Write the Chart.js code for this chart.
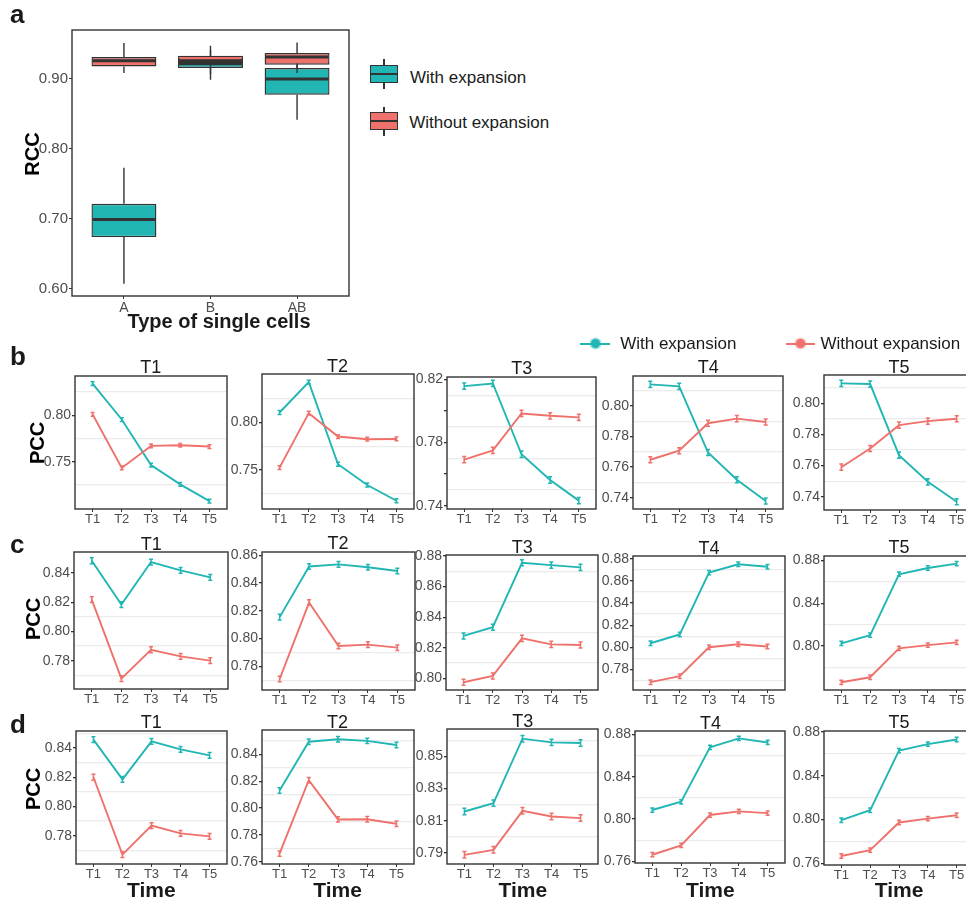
<!DOCTYPE html>
<html>
<head>
<meta charset="utf-8">
<script src="https://cdn.jsdelivr.net/npm/chart.js@4.4.0/dist/chart.umd.min.js"></script>
<style>
  body { margin: 0; background: #fff; }
  #fig { position: relative; width: 966px; height: 899px; overflow: hidden; background: #fff;
         font-family: "Liberation Sans", Arial, sans-serif; }
  #fig canvas, #fig .t, #fig .g { position: absolute; }
  #fig .t { white-space: nowrap; color: #1a1a1a; }
</style>
</head>
<body>
<div id="fig"></div>
<script>
// Panneau a : boîtes à moustaches
const cellTypes = ['A', 'B', 'AB'];
const rccTicks = [0.60, 0.70, 0.80, 0.90];
const withLow = [0.6071, 0.898, 0.841];
const withQ1 = [0.6735, 0.9148, 0.8768];
const withMed = [0.6987, 0.921, 0.899];
const withQ3 = [0.7211, 0.929, 0.9148];
const withHigh = [0.7724, 0.94, 0.93];
const withoutLow = [0.9077, 0.906, 0.9077];
const withoutQ1 = [0.9171, 0.9215, 0.9195];
const withoutMed = [0.925, 0.9252, 0.9305];
const withoutQ3 = [0.9305, 0.9323, 0.9362];
const withoutHigh = [0.9504, 0.9466, 0.9513];

// Panneaux b, c, d : PCC au cours du temps
const timeLabels = ['T1', 'T2', 'T3', 'T4', 'T5'];
const panelTitles = ['T1', 'T2', 'T3', 'T4', 'T5'];
const errHalf = 0.002; // demi-barre d'erreur estimée

const bWith = [
  [0.834, 0.7954, 0.7465, 0.7258, 0.7079],
  [0.8106, 0.8427, 0.756, 0.7341, 0.7175],
  [0.8158, 0.8175, 0.7726, 0.7563, 0.7432],
  [0.8141, 0.8128, 0.7696, 0.7517, 0.7378],
  [0.8128, 0.8124, 0.7667, 0.7496, 0.7368]
];
const bWithout = [
  [0.801, 0.7435, 0.7671, 0.7678, 0.7664],
  [0.7524, 0.8099, 0.7852, 0.7824, 0.7827],
  [0.7692, 0.7751, 0.7985, 0.797, 0.796],
  [0.7648, 0.7707, 0.7887, 0.7917, 0.7895],
  [0.759, 0.771, 0.786, 0.7886, 0.7901]
];
const bRange = [[0.6994, 0.8421], [0.7088, 0.8512], [0.7379, 0.8216], [0.7326, 0.8196], [0.7315, 0.8182]];
const bTicks = [[0.75, 0.80], [0.75, 0.80], [0.74, 0.76, 0.78, 0.80, 0.82], [0.74, 0.76, 0.78, 0.80], [0.74, 0.76, 0.78, 0.80]];
const bTickLabels = [['0.75', '0.80'], ['0.75', '0.80'], ['0.74', '', '0.78', '', '0.82'],
  ['0.74', '0.76', '0.78', '0.80'], ['0.74', '0.76', '0.78', '0.80']];
const bGrid = [[0.725, 0.775, 0.825], [0.725, 0.775, 0.825], [0.75, 0.77, 0.79, 0.81], [0.75, 0.77, 0.79, 0.81], [0.75, 0.77, 0.79, 0.81]];

const cWith = [
  [0.8484, 0.8184, 0.8475, 0.8418, 0.837],
  [0.8155, 0.852, 0.8535, 0.8514, 0.8487],
  [0.8277, 0.8334, 0.8756, 0.8741, 0.8726],
  [0.8036, 0.8115, 0.8676, 0.8752, 0.873],
  [0.8025, 0.8102, 0.867, 0.8728, 0.8769]
];
const cWithout = [
  [0.8218, 0.7677, 0.7875, 0.7829, 0.78],
  [0.7709, 0.826, 0.7947, 0.7957, 0.7935],
  [0.7974, 0.8015, 0.8261, 0.8222, 0.8218],
  [0.7683, 0.7737, 0.80, 0.8027, 0.8006],
  [0.7662, 0.7709, 0.7979, 0.8009, 0.8034]
];
const cRange = [[0.7606, 0.8544], [0.763, 0.8624], [0.7923, 0.8807], [0.7612, 0.8827], [0.759, 0.884]];
const cTicks = [[0.78, 0.80, 0.82, 0.84], [0.78, 0.80, 0.82, 0.84, 0.86], [0.80, 0.82, 0.84, 0.86, 0.88],
  [0.78, 0.80, 0.82, 0.84, 0.86, 0.88], [0.80, 0.84, 0.88]];
const cGrid = [[0.77, 0.79, 0.81], [0.77, 0.79], [0.81, 0.83, 0.85, 0.87], [0.77, 0.79, 0.81, 0.83, 0.85, 0.87], [0.78, 0.82, 0.86]];

const dWith = [
  [0.8458, 0.8186, 0.8446, 0.8391, 0.835],
  [0.8131, 0.8493, 0.8511, 0.8499, 0.8469],
  [0.8158, 0.821, 0.861, 0.8587, 0.8583],
  [0.8085, 0.8163, 0.8677, 0.8761, 0.8723],
  [0.7994, 0.8085, 0.863, 0.8689, 0.8731]
];
const dWithout = [
  [0.82, 0.767, 0.7869, 0.7816, 0.7795],
  [0.7662, 0.8207, 0.7916, 0.7917, 0.7884],
  [0.7889, 0.792, 0.8162, 0.8127, 0.8117],
  [0.7663, 0.7751, 0.8038, 0.8072, 0.8056],
  [0.7667, 0.7721, 0.7973, 0.8009, 0.8039]
];
const dRange = [[0.7606, 0.8517], [0.7585, 0.858], [0.7832, 0.867], [0.7585, 0.8831], [0.7585, 0.8809]];
const dTicks = [[0.78, 0.80, 0.82, 0.84], [0.76, 0.78, 0.80, 0.82, 0.84], [0.79, 0.81, 0.83, 0.85],
  [0.76, 0.80, 0.84, 0.88], [0.76, 0.80, 0.84, 0.88]];
const dGrid = [[0.77, 0.79, 0.81, 0.83, 0.85], [0.77, 0.79, 0.81, 0.83, 0.85], [0.80, 0.82, 0.84, 0.86], [0.78, 0.82, 0.86], [0.78, 0.82, 0.86]];

// Mise en page : cadres des panneaux [gauche, haut, droite, bas]
const bBoxes = [[75, 375.7, 226.7, 509], [261.7, 374.3, 413.3, 509], [447.2, 376.7, 596.5, 509], [633.4, 375.7, 783.2, 509], [824.1, 375, 974, 510]];
const cBoxes = [[74, 552.3, 228.3, 689.3], [261.7, 551.7, 414.3, 689.3], [446.1, 555, 598.3, 690], [633.1, 556, 784.9, 690], [824.1, 555.7, 974, 690]];
const dBoxes = [[76, 730.7, 226.7, 863.3], [261.7, 730, 413.3, 864.3], [447.2, 729.3, 598.3, 864.3], [635.2, 731, 785.6, 863.3], [824.1, 730.7, 974, 865]];

const TEAL = '#21B6B4';
const RED = '#EF716B';
const DARK = '#333333';
const TICK_GREY = '#4D4D4D';

Chart.defaults.font.family = '"Liberation Sans", Arial, sans-serif';
Chart.defaults.color = TICK_GREY;
Chart.defaults.animation = false;

const fig = document.getElementById('fig');

function addCanvas(left, top, w, h) {
    const c = document.createElement('canvas');
    c.width = w;
    c.height = h;
    c.style.left = left + 'px';
    c.style.top = top + 'px';
    c.style.width = w + 'px';
    c.style.height = h + 'px';
    fig.appendChild(c);
    return c;
}

// Texte HTML positionné par sa ligne de base
function addText(str, x, base, size, bold, align) {
    const d = document.createElement('div');
    d.className = 't';
    d.textContent = str;
    d.style.fontSize = size + 'px';
    d.style.lineHeight = size + 'px';
    d.style.fontWeight = bold ? 'bold' : 'normal';
    d.style.left = x + 'px';
    d.style.top = (base - 0.8465 * size) + 'px';
    if (align === 'center') d.style.transform = 'translateX(-50%)';
    fig.appendChild(d);
    return d;
}

function addVertical(str, cx, cy, size) {
    const d = document.createElement('div');
    d.className = 't';
    d.textContent = str;
    d.style.fontSize = size + 'px';
    d.style.lineHeight = size + 'px';
    d.style.fontWeight = 'bold';
    d.style.color = '#000';
    d.style.left = cx + 'px';
    d.style.top = cy + 'px';
    d.style.transform = 'translate(-50%, -50%) rotate(-90deg)';
    fig.appendChild(d);
}

function addShape(css) {
    const d = document.createElement('div');
    d.className = 'g';
    d.style.cssText += css;
    fig.appendChild(d);
    return d;
}

// Cadre sombre autour de la zone du graphique
const framePlugin = {
    id: 'frame',
    afterDraw(chart) {
        const a = chart.chartArea;
        const ctx = chart.ctx;
        ctx.save();
        ctx.strokeStyle = DARK;
        ctx.lineWidth = 1.4;
        ctx.strokeRect(a.left, a.top, a.right - a.left, a.bottom - a.top);
        ctx.restore();
    }
};

// Moustaches et médianes, dessinées juste après chaque jeu de boîtes
const boxParts = {
    id: 'boxParts',
    afterDatasetDraw(chart, args) {
        const ds = chart.data.datasets[args.index];
        const y = chart.scales.y;
        const ctx = chart.ctx;
        ctx.save();
        ctx.strokeStyle = DARK;
        args.meta.data.forEach((bar, i) => {
            const half = bar.width / 2;
            ctx.lineWidth = 1.4;
            ctx.beginPath();
            ctx.moveTo(bar.x, y.getPixelForValue(ds.q3[i]));
            ctx.lineTo(bar.x, y.getPixelForValue(ds.high[i]));
            ctx.moveTo(bar.x, y.getPixelForValue(ds.q1[i]));
            ctx.lineTo(bar.x, y.getPixelForValue(ds.low[i]));
            ctx.stroke();
            ctx.lineWidth = 3;
            ctx.beginPath();
            const ym = y.getPixelForValue(ds.med[i]);
            ctx.moveTo(bar.x - half + 1, ym);
            ctx.lineTo(bar.x + half - 1, ym);
            ctx.stroke();
        });
        ctx.restore();
    }
};

// Petites barres d'erreur verticales sur chaque point
const errorBars = {
    id: 'errorBars',
    afterDatasetDraw(chart, args) {
        const ds = chart.data.datasets[args.index];
        const y = chart.scales.y;
        const ctx = chart.ctx;
        ctx.save();
        ctx.strokeStyle = ds.borderColor;
        ctx.lineWidth = 1.5;
        args.meta.data.forEach((pt, i) => {
            const v = ds.data[i].y;
            const y1 = y.getPixelForValue(v + errHalf);
            const y2 = y.getPixelForValue(v - errHalf);
            ctx.beginPath();
            ctx.moveTo(pt.x, y1);
            ctx.lineTo(pt.x, y2);
            ctx.moveTo(pt.x - 2, y1);
            ctx.lineTo(pt.x + 2, y1);
            ctx.moveTo(pt.x - 2, y2);
            ctx.lineTo(pt.x + 2, y2);
            ctx.stroke();
        });
        ctx.restore();
    }
};

// ---------- Panneau a ----------
function drawBoxPanel() {
    const L = 72, T = 30, R = 349, B = 296;
    const YW = 50, PAD = 10, XH = 22;
    const canvas = addCanvas(L - YW, T - PAD, (R - L) + YW + PAD, (B - T) + PAD + XH);
    const boxData = (q1, q3) => cellTypes.map((c, i) => ({ x: i + 1, y: [q1[i], q3[i]] }));
    new Chart(canvas, {
        type: 'bar',
        data: {
            datasets: [{
                label: 'With expansion',
                data: boxData(withQ1, withQ3),
                q1: withQ1, q3: withQ3, med: withMed, low: withLow, high: withHigh,
                backgroundColor: TEAL,
                borderColor: DARK,
                borderWidth: 1.4,
                borderSkipped: false,
                grouped: false,
                categoryPercentage: 1,
                barPercentage: 0.75,
                order: 2
            }, {
                label: 'Without expansion',
                data: boxData(withoutQ1, withoutQ3),
                q1: withoutQ1, q3: withoutQ3, med: withoutMed, low: withoutLow, high: withoutHigh,
                backgroundColor: RED,
                borderColor: DARK,
                borderWidth: 1.4,
                borderSkipped: false,
                grouped: false,
                categoryPercentage: 1,
                barPercentage: 0.75,
                order: 1
            }]
        },
        options: {
            responsive: false,
            events: [],
            layout: { padding: { top: PAD, right: PAD, left: 0, bottom: 0 } },
            plugins: { legend: { display: false }, tooltip: { enabled: false } },
            scales: {
                x: {
                    type: 'linear', min: 0.4, max: 3.6, offset: false,
                    afterFit: s => { s.height = XH; },
                    afterBuildTicks: s => { s.ticks = cellTypes.map((c, i) => ({ value: i + 1 })); },
                    ticks: { autoSkip: false, maxRotation: 0, padding: 1, font: { size: 14 }, color: TICK_GREY,
                             callback: v => cellTypes[v - 1] },
                    grid: { drawOnChartArea: false, offset: false, tickLength: 3, tickColor: DARK },
                    border: { display: false }
                },
                y: {
                    type: 'linear', min: 0.5895, max: 0.969, beginAtZero: false,
                    afterFit: s => { s.width = YW; },
                    afterBuildTicks: s => { s.ticks = rccTicks.map(v => ({ value: v })); },
                    ticks: { autoSkip: false, padding: 1, font: { size: 15 }, color: TICK_GREY,
                             callback: v => v.toFixed(2) },
                    grid: { drawOnChartArea: false, tickLength: 3, tickColor: DARK },
                    border: { display: false }
                }
            }
        },
        plugins: [boxParts, framePlugin]
    });
}

// ---------- Petits panneaux en lignes ----------
function drawLinePanel(box, title, withVals, withoutVals, range, ticks, labels, grid) {
    const [L, T, R, B] = box;
    const YW = 40, PAD = 10, XH = 22;
    const left = Math.round(L);
    const width = Math.round(R - L);
    const canvas = addCanvas(left - YW, Math.round(T) - PAD, width + YW + PAD, Math.round(B - T) + PAD + XH);
    const pts = vals => vals.map((v, i) => ({ x: i + 1, y: v }));
    const yTicks = ticks.map((v, i) => ({ value: v, kind: 'major', lab: labels ? labels[i] : v.toFixed(2) }))
        .concat(grid.map(v => ({ value: v, kind: 'grid', lab: '' })))
        .sort((a, b) => a.value - b.value);

    new Chart(canvas, {
        type: 'line',
        data: {
            datasets: [{
                label: 'With expansion',
                data: pts(withVals),
                borderColor: TEAL,
                borderWidth: 1.9,
                pointRadius: 0,
                tension: 0,
                order: 2
            }, {
                label: 'Without expansion',
                data: pts(withoutVals),
                borderColor: RED,
                borderWidth: 1.9,
                pointRadius: 0,
                tension: 0,
                order: 1
            }]
        },
        options: {
            responsive: false,
            events: [],
            layout: { padding: { top: PAD, right: PAD, left: 0, bottom: 0 } },
            plugins: { legend: { display: false }, tooltip: { enabled: false } },
            scales: {
                x: {
                    type: 'linear', min: 0.4, max: 5.6,
                    afterFit: s => { s.height = XH; },
                    afterBuildTicks: s => { s.ticks = timeLabels.map((t, i) => ({ value: i + 1 })); },
                    ticks: { autoSkip: false, maxRotation: 0, padding: 0, font: { size: 13 }, color: TICK_GREY,
                             callback: v => timeLabels[v - 1] },
                    grid: { drawOnChartArea: false, tickLength: 3, tickColor: DARK },
                    border: { display: false }
                },
                y: {
                    type: 'linear', min: range[0], max: range[1],
                    afterFit: s => { s.width = YW; },
                    afterBuildTicks: s => { s.ticks = yTicks.map(t => Object.assign({}, t)); },
                    ticks: { autoSkip: false, padding: 1, font: { size: 14 }, color: TICK_GREY,
                             callback: (v, i, arr) => arr[i].lab },
                    grid: {
                        lineWidth: 1.3,
                        tickLength: 3,
                        color: ctx => (ctx.tick && ctx.tick.kind === 'grid') ? '#EBEBEB' : 'rgba(0,0,0,0)',
                        tickColor: ctx => (ctx.tick && ctx.tick.kind === 'major') ? DARK : 'rgba(0,0,0,0)'
                    },
                    border: { display: false }
                }
            }
        },
        plugins: [errorBars, framePlugin]
    });
    // titre du panneau
    addText(title, (L + R) / 2, T - 2, 18, false, 'center');
}

function drawRow(boxes, withRows, withoutRows, ranges, ticks, labels, grids) {
    boxes.forEach((box, i) => {
        drawLinePanel(box, panelTitles[i], withRows[i], withoutRows[i], ranges[i], ticks[i],
            labels ? labels[i] : null, grids[i]);
    });
}

drawBoxPanel();
drawRow(bBoxes, bWith, bWithout, bRange, bTicks, bTickLabels, bGrid);
drawRow(cBoxes, cWith, cWithout, cRange, cTicks, null, cGrid);
drawRow(dBoxes, dWith, dWithout, dRange, dTicks, null, dGrid);

// ---------- Textes ----------
addText('a', 10, 23.5, 26, true);
addText('b', 10, 365, 26, true);
addText('c', 10, 553, 26, true);
addText('d', 10, 733, 26, true);

addVertical('RCC', 32, 154, 20);
addText('Type of single cells', 219, 328, 20, true, 'center');
addVertical('PCC', 36.7, 442.5, 20);
addVertical('PCC', 33.3, 619, 20);
addVertical('PCC', 33.3, 789, 20);
dBoxes.forEach(b => addText('Time', (b[0] + b[2]) / 2, 896.5, 21, true, 'center'));

// Légende du panneau a (symboles de boîtes)
function boxKey(x, top, bottom, wTop, wBottom, color) {
    addShape(`left:${x + 13.4}px;top:${wTop}px;width:1.4px;height:${wBottom - wTop}px;background:${DARK};`);
    addShape(`left:${x}px;top:${top}px;width:28px;height:${bottom - top}px;background:${color};border:1.3px solid ${DARK};box-sizing:border-box;`);
    addShape(`left:${x}px;top:${(top + bottom) / 2 - 0.8}px;width:28px;height:1.6px;background:${DARK};`);
}
boxKey(370, 65, 83.3, 59.3, 89, TEAL);
boxKey(370, 111.7, 130, 106.7, 136, RED);
addText('With expansion', 410, 83.4, 17, false);
addText('Without expansion', 409.3, 128.8, 17, false);

// Légende des panneaux b-d (ligne + point)
function lineKey(x1, x2, cx, cy, color) {
    addShape(`left:${x1}px;top:${cy - 1}px;width:${x2 - x1}px;height:2px;background:${color};`);
    addShape(`left:${cx - 4.5}px;top:${cy - 4.5}px;width:9px;height:9px;border-radius:50%;background:${color};box-shadow:0 0 0 1.5px ${color}66;`);
}
lineKey(580, 610, 595, 343.5, TEAL);
lineKey(786, 815, 800.6, 343.5, RED);
addText('With expansion', 620.2, 349.5, 17, false);
addText('Without expansion', 820.4, 349.5, 17, false);
</script>
</body>
</html>
